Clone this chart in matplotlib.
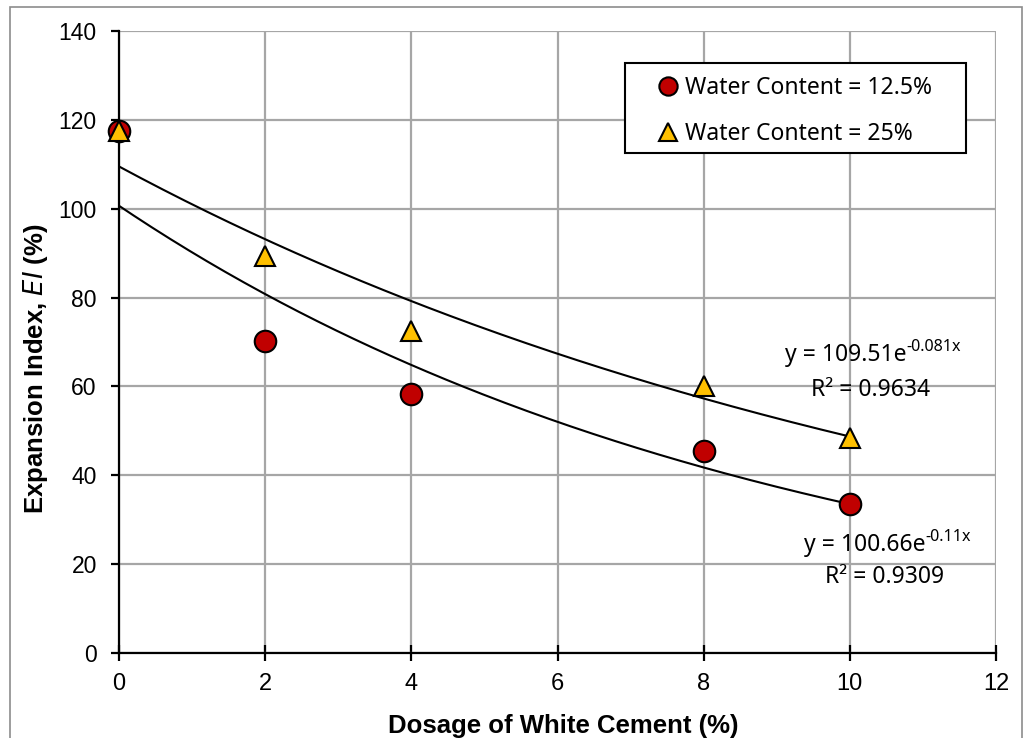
import numpy as np
import matplotlib.pyplot as plt
from matplotlib.patches import Rectangle

# data
dosage = [0, 2, 4, 8, 10]
ei_125 = [117.5, 70.3, 58.3, 45.4, 33.6]
ei_25 = [117.5, 89.4, 72.5, 60.2, 48.4]

# trend lines given on the chart: a, b, R2, label text
fit_125 = (100.66, -0.11, 0.9309)
fit_25 = (109.51, -0.081, 0.9634)
eq_125 = ('y = 100.66e', '-0.11x', 'R² = 0.9309')
eq_25 = ('y = 109.51e', '-0.081x', 'R² = 0.9634')

x_ticks = [0, 2, 4, 6, 8, 10, 12]
y_ticks = [0, 20, 40, 60, 80, 100, 120, 140]

tick_font = ['Liberation Sans', 'DejaVu Sans']
label_font = ['Liberation Sans', 'DejaVu Sans']
text_font = ['Noto Sans', 'DejaVu Sans']
txt_size = 16.5

fig = plt.figure(figsize=(10.33, 7.38), dpi=100)
ax = fig.add_axes([0.1152, 0.1152, 0.8490, 0.8428])

# outer frame of the chart area
fig.patches.append(Rectangle((0.0097, -0.01), 0.980, 1.0, transform=fig.transFigure,
                             fill=False, edgecolor='#8c8c8c', linewidth=1.2))

xs = np.linspace(0, 10, 200)
ax.plot(xs, fit_25[0] * np.exp(fit_25[1] * xs), color='black', lw=1.5, zorder=3)
ax.plot(xs, fit_125[0] * np.exp(fit_125[1] * xs), color='black', lw=1.5, zorder=3)

ax.plot(dosage, ei_125, 'o', ms=15.5, mfc='#C00000', mec='black', mew=1.5,
        ls='none', label='Water Content = 12.5%', zorder=4, clip_on=False)
ax.plot(dosage, ei_25, '^', ms=15, mfc='#FFC000', mec='black', mew=1.5,
        ls='none', label='Water Content = 25%', zorder=5, clip_on=False)

ax.set_xlim(0, 12)
ax.set_ylim(0, 140)
ax.set_xticks(x_ticks)
ax.set_yticks(y_ticks)
ax.grid(True, color='#a6a6a6', lw=1.6)
ax.set_axisbelow(True)
for s in ['top', 'right']:
    ax.spines[s].set_visible(False)
for s in ['left', 'bottom']:
    ax.spines[s].set_linewidth(1.6)
ax.tick_params(axis='x', direction='inout', length=11, width=1.6, labelsize=17, pad=9)
ax.tick_params(axis='y', direction='out', length=6, width=1.6, labelsize=16.5, pad=10)
for lab in ax.get_xticklabels() + ax.get_yticklabels():
    lab.set_family(tick_font)

ax.set_xlabel('Dosage of White Cement (%)', fontsize=18.5, fontweight='bold',
              family=label_font)
ax.set_ylabel(r'Expansion Index, $\mathbf{\it{EI}}$ (%)', fontsize=18.5, fontweight='bold',
              family=label_font)
ax.xaxis.set_label_coords(0.507, -0.098)
ax.yaxis.set_label_coords(-0.079, 0.457)

# legend box drawn separately so the padding can be wider than tall
ax.add_patch(Rectangle((0.577, 0.8039), 0.3888, 0.1447, transform=ax.transAxes,
                       facecolor='white', edgecolor='black', lw=1.5, zorder=6))
leg = ax.legend(loc='upper right', bbox_to_anchor=(0.9398, 0.9462), borderaxespad=0,
                frameon=False, prop={'family': text_font, 'size': txt_size},
                handletextpad=-0.5, borderpad=0.5, labelspacing=0.95, handlelength=2.5,
                markerscale=0.85)
leg.set_zorder(7)


def equation(x, y, eq, r_x, r_y):
    base, sup, r2 = eq
    ax.text(x, y, base, fontsize=txt_size, family=text_font, ha='right', va='center')
    ax.annotate(sup, (x, y), xytext=(0, 6), textcoords='offset points',
                fontsize=txt_size * 0.7, family=text_font, ha='left', va='center')
    ax.text(r_x, r_y, r2, fontsize=txt_size, family=text_font, ha='center', va='center')


equation(10.78, 67.1, eq_25, 10.29, 59.2)
equation(11.03, 24.3, eq_125, 10.47, 17.1)

fig.savefig('out.png', dpi=100)
